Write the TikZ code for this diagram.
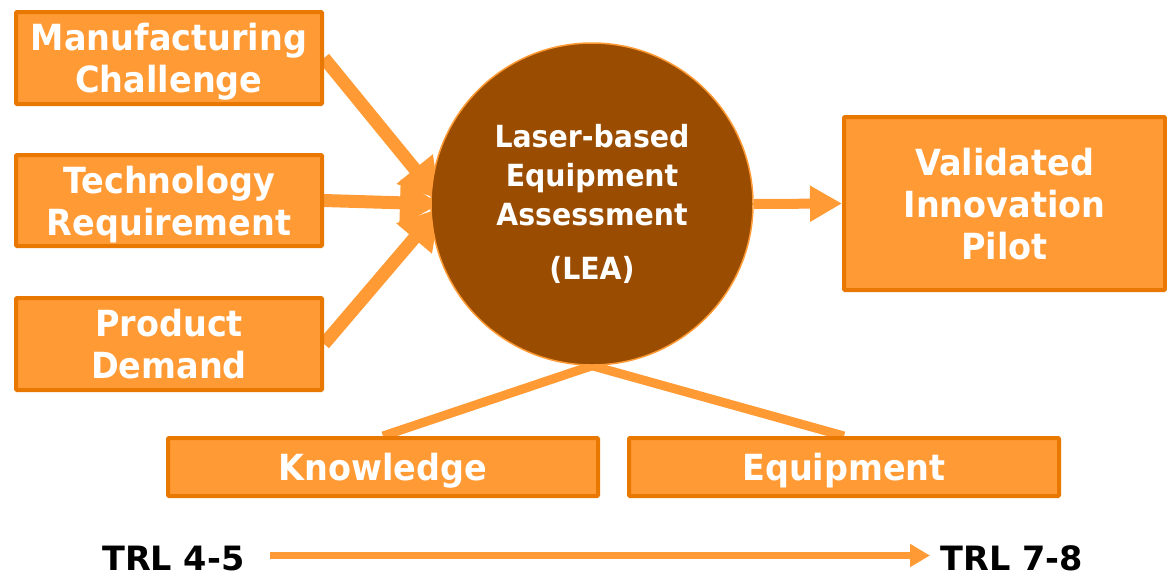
\documentclass[tikz,border=0pt]{standalone}
\usepackage{fontspec}
\setmainfont{DejaVu Sans}
\newfontfamily\labelfont[FakeStretch=0.93]{DejaVu Sans Bold}
\newfontfamily\trlfont{DejaVu Sans Bold}
\usetikzlibrary{arrows.meta,backgrounds}
\definecolor{boxfill}{HTML}{FF9A35}
\definecolor{boxline}{HTML}{E87800}
\definecolor{hub}{HTML}{9A4D00}
\begin{document}
\begin{tikzpicture}[x=1pt,y=-1pt,
  box/.style={draw=boxline, line width=4pt, fill=boxfill, text=white,
    font=\labelfont\fontsize{36}{42}\selectfont, align=center,
    text depth=0pt, inner sep=0pt, rounded corners=1pt},
  feed/.style={draw=boxfill, fill=boxfill, line width=13pt,
    -{Triangle[length=40pt,width=44pt]}},
  outflow/.style={draw=boxfill, fill=boxfill, line width=10pt,
    -{Triangle[length=32pt,width=34pt]}},
  link/.style={draw=boxfill, line width=9pt},
  progress/.style={draw=boxfill, fill=boxfill, line width=7pt,
    -{Triangle[length=20pt,width=22pt]}},
  trl/.style={font=\trlfont\fontsize{33.5}{36}\selectfont, text=black,
    text depth=0pt, inner sep=0pt}
]
\useasboundingbox (0,0) rectangle (1167,576);

% input boxes
\node[box, minimum width=306pt, minimum height=92pt] (mc) at (169,58)
  {Manufacturing\\Challenge};
\node[box, minimum width=306pt, minimum height=91pt] (tr) at (169,200.5)
  {Technology\\Requirement};
\node[box, minimum width=306pt, minimum height=92pt] (pd) at (169,344)
  {Product\\Demand};

% central assessment
\node[circle, fill=hub, draw=boxfill, line width=1.5pt, minimum size=322pt,
  inner sep=0pt, text=white, align=center,
  font=\labelfont\fontsize{30.5}{39}\selectfont] (lea) at (592,204)
  {Laser-based\\Equipment\\Assessment\\[15pt](LEA)};

% outcome
\node[box, minimum width=321pt, minimum height=173pt] (vip) at (1004.5,203.5)
  {Validated\\Innovation\\Pilot};

% resources
\node[box, minimum width=430pt, minimum height=58pt] (kn) at (383,467) {Knowledge};
\node[box, minimum width=430pt, minimum height=58pt] (eq) at (844,467) {Equipment};

% readiness levels
\node[trl, anchor=base west] (trlA) at (102,570) {TRL 4-5};
\node[trl, anchor=base east] (trlB) at (1083,570) {TRL 7-8};

% arrow tips sit under the circle's rim
\coordinate (tipA) at (440,200);
\coordinate (tipB) at (440,204);
\coordinate (tipC) at (440,208);
\coordinate (progA) at (270,555.5);
\coordinate (progB) at (930,555.5);

\begin{scope}[on background layer]
  \draw[feed] (mc.east) -- (tipA);
  \draw[feed] (tr.east) -- (tipB);
  \draw[feed] (pd.east) -- (tipC);
  \draw[outflow] (lea.east) -- (vip.west);
  \draw[link] (lea.south) -- (kn.north);
  \draw[link] (lea.south) -- (eq.north);
\end{scope}
\draw[progress] (progA) -- (progB);
\end{tikzpicture}
\end{document}
